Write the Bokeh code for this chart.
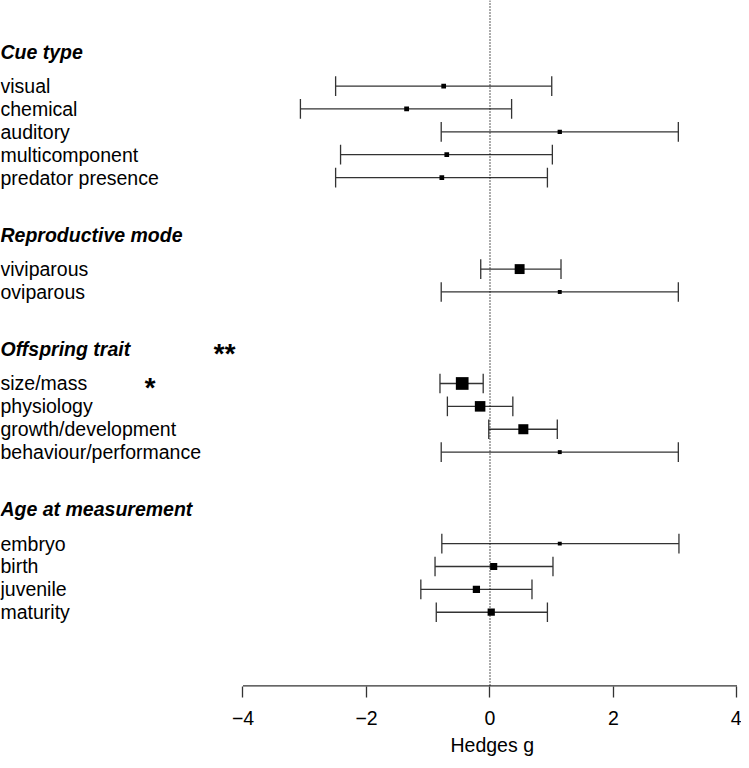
from bokeh.plotting import figure
from bokeh.models import Range1d, FixedTicker, Span, ColumnDataSource, Title
from bokeh.core.properties import value
from bokeh.embed import file_html
from bokeh.resources import INLINE

# ---------------- data ----------------
groups = ["Cue type", "Reproductive mode", "Offspring trait", "Age at measurement"]

cue_labels = ["visual", "chemical", "auditory", "multicomponent", "predator presence"]
cue_est = [-0.75, -1.35, 1.13, -0.70, -0.78]
cue_lo = [-2.50, -3.07, -0.79, -2.42, -2.50]
cue_hi = [1.00, 0.35, 3.05, 1.01, 0.93]
cue_w = [0.37, 0.38, 0.34, 0.37, 0.37]

rep_labels = ["viviparous", "oviparous"]
rep_est = [0.48, 1.13]
rep_lo = [-0.15, -0.79]
rep_hi = [1.15, 3.05]
rep_w = [0.78, 0.31]

off_labels = ["size/mass", "physiology", "growth/development", "behaviour/performance"]
off_est = [-0.45, -0.16, 0.54, 1.13]
off_lo = [-0.81, -0.69, -0.02, -0.79]
off_hi = [-0.11, 0.37, 1.09, 3.05]
off_w = [1.00, 0.83, 0.79, 0.31]

age_labels = ["embryo", "birth", "juvenile", "maturity"]
age_est = [1.13, 0.06, -0.22, 0.02]
age_lo = [-0.78, -0.89, -1.12, -0.87]
age_hi = [3.06, 1.02, 0.68, 0.93]
age_w = [0.31, 0.56, 0.57, 0.57]

group_sig = ["", "", "**", ""]          # group-level significance
item_sig = {"size/mass": "*"}           # level-level significance

x_ticks = [-4, -2, 0, 2, 4]
x_label = "Hedges g"

# ---------------- layout ----------------
all_sets = [
    (cue_labels, cue_est, cue_lo, cue_hi, cue_w),
    (rep_labels, rep_est, rep_lo, rep_hi, rep_w),
    (off_labels, off_est, off_lo, off_hi, off_w),
    (age_labels, age_est, age_lo, age_hi, age_w),
]

lab, est, lo, hi, w, ys = [], [], [], [], [], []
hdr_y = []
first = 0
for labels, e, l, h, ww in all_sets:
    hdr_y.append(first - 1.5)
    for i in range(len(labels)):
        lab.append(labels[i]); est.append(e[i]); lo.append(l[i]); hi.append(h[i])
        w.append(ww[i]); ys.append(first + i)
    first = first + len(labels) - 1 + 4

W, H = 741, 760
X0, X1 = -7.927, 4.073
Y_BOT, Y_TOP = 26.246, -3.741
CAP = 0.43
FONT = value("Liberation Sans")
FS = "19.5px"

src = ColumnDataSource(dict(
    lab=lab, est=est, lo=lo, hi=hi, y=ys,
    y0=[v - CAP for v in ys], y1=[v + CAP for v in ys],
    size=[v * 12.7 for v in w], xl=[X0] * len(ys),
))

p = figure(width=W, height=H, output_backend="svg", toolbar_location=None,
           x_range=Range1d(X0, X1), y_range=Range1d(Y_BOT, Y_TOP),
           y_axis_location=None, min_border_left=0, min_border_right=0,
           min_border_top=0, min_border_bottom=74)
p.outline_line_color = None
p.xgrid.visible = False
p.ygrid.visible = False
p.background_fill_color = "white"
p.border_fill_color = "white"

ax = p.xaxis[0]
ax.ticker = FixedTicker(ticks=x_ticks)
ax.major_label_overrides = {t: (("\u2212" + str(abs(t))) if t < 0 else str(t)) for t in x_ticks}
ax.axis_line_color = None
ax.minor_tick_line_color = None
ax.major_tick_in = 0
ax.major_tick_out = 11
ax.major_tick_line_color = "#333333"
ax.major_tick_line_width = 1.3
ax.major_label_text_font = "Liberation Sans"
ax.major_label_text_font_size = FS
ax.major_label_text_color = "black"
ax.major_label_standoff = 13

# axis title centred under zero, as in the original
p.add_layout(Title(text=x_label, align="left", offset=450, standoff=9,
                   text_font="Liberation Sans", text_font_size=FS,
                   text_font_style="normal", text_color="black"), "below")

# zero reference line
p.add_layout(Span(location=0, dimension="height", line_dash="1 2",
                  line_color="black", line_width=1.3))

# axis line between the outer ticks
p.segment(x0=[min(x_ticks)], x1=[max(x_ticks)], y0=[Y_BOT], y1=[Y_BOT],
          line_color="#333333", line_width=2.6)

# error bars
p.segment(x0="lo", x1="hi", y0="y", y1="y", source=src, line_color="#333333", line_width=1.3)
p.segment(x0="lo", x1="lo", y0="y0", y1="y1", source=src, line_color="#333333", line_width=1.3)
p.segment(x0="hi", x1="hi", y0="y0", y1="y1", source=src, line_color="#333333", line_width=1.3)
p.scatter(x="est", y="y", size="size", marker="square", source=src,
          fill_color="black", line_color="black", line_width=0)

# level labels
p.text(x="xl", y="y", text="lab", source=src, text_font=FONT, text_font_size=FS,
       text_baseline="middle", text_align="left", text_color="black")
# group headers
p.text(x=[X0] * len(groups), y=hdr_y, text=groups, text_font=FONT, text_font_size=FS,
       text_font_style="bold italic", text_baseline="middle", text_align="left",
       text_color="black")

# significance stars
star_x, star_y, star_t = [], [], []
for g, s, hy in zip(groups, group_sig, hdr_y):
    if s:
        star_x.append(-4.494); star_y.append(hy); star_t.append(s)
for name, s in item_sig.items():
    star_x.append(-5.611); star_y.append(ys[lab.index(name)]); star_t.append(s)
p.text(x=star_x, y=star_y, text=star_t, text_font=FONT, text_font_size="28px",
       text_font_style="bold italic", text_baseline="middle", text_align="left",
       y_offset=4, text_color="black")

open("out.html", "w").write(file_html(p, INLINE))
